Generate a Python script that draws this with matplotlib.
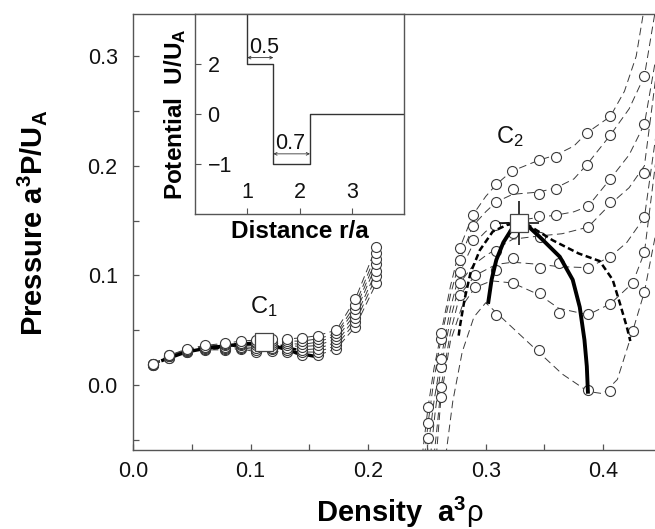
import numpy as np
import matplotlib
matplotlib.use("Agg")
import matplotlib.pyplot as plt
from matplotlib.ticker import MultipleLocator, FixedLocator, FixedFormatter

plt.rcParams['font.family'] = ['Liberation Sans', 'DejaVu Sans']
plt.rcParams['mathtext.fontset'] = 'custom'
plt.rcParams['mathtext.rm'] = 'Liberation Sans'
plt.rcParams['mathtext.it'] = 'Liberation Sans'
plt.rcParams['mathtext.bf'] = 'Liberation Sans:bold'
plt.rcParams['lines.scale_dashes'] = False

# ---------------- data: high-density isotherms (markers = simulation points, fit = dashed curve) ----
t1_x = [0.309, 0.345, 0.387, 0.406, 0.425, 0.435]
t1_y = [0.064, 0.032, -0.005, -0.006, 0.049, 0.085]
t1_fx = [0.266, 0.272, 0.280, 0.290, 0.300, 0.309, 0.325, 0.345, 0.365, 0.387, 0.400, 0.412, 0.425, 0.435, 0.445]
t1_fy = [-0.065, -0.015, 0.030, 0.062, 0.075, 0.066, 0.050, 0.030, 0.010, -0.006, -0.008, 0.005, 0.049, 0.085, 0.140]

t2_x = [0.262, 0.291, 0.323, 0.346, 0.362, 0.387, 0.406, 0.425, 0.435]
t2_y = [-0.011, 0.089, 0.093, 0.084, 0.066, 0.065, 0.074, 0.093, 0.121]
t2_fx = [0.258, 0.262, 0.270, 0.280, 0.291, 0.305, 0.323, 0.346, 0.362, 0.387, 0.406, 0.425, 0.435, 0.450]
t2_fy = [-0.065, -0.011, 0.040, 0.072, 0.089, 0.095, 0.093, 0.082, 0.070, 0.064, 0.074, 0.093, 0.121, 0.250]

t3_x = [0.262, 0.278, 0.291, 0.309, 0.323, 0.346, 0.362, 0.387, 0.406, 0.435]
t3_y = [-0.002, 0.082, 0.100, 0.105, 0.116, 0.107, 0.111, 0.107, 0.117, 0.153]
t3_fx = [0.256, 0.259, 0.262, 0.270, 0.278, 0.291, 0.309, 0.323, 0.346, 0.362, 0.387, 0.406, 0.420, 0.435, 0.449]
t3_fy = [-0.065, -0.035, -0.002, 0.048, 0.082, 0.100, 0.110, 0.112, 0.110, 0.108, 0.107, 0.117, 0.130, 0.153, 0.260]

t4_x = [0.262, 0.278, 0.309, 0.323, 0.346, 0.387, 0.406, 0.435]
t4_y = [0.016, 0.093, 0.122, 0.139, 0.135, 0.144, 0.167, 0.193]
t4_fx = [0.253, 0.257, 0.262, 0.270, 0.278, 0.290, 0.300, 0.309, 0.323, 0.346, 0.365, 0.387, 0.406, 0.422, 0.435, 0.447]
t4_fy = [-0.065, -0.025, 0.016, 0.060, 0.093, 0.110, 0.118, 0.124, 0.133, 0.136, 0.138, 0.144, 0.165, 0.180, 0.200, 0.300]

t5_x = [0.251, 0.262, 0.278, 0.289, 0.308, 0.345, 0.360, 0.387, 0.406, 0.435]
t5_y = [-0.048, 0.024, 0.103, 0.132, 0.146, 0.154, 0.155, 0.163, 0.188, 0.238]
t5_fx = [0.250, 0.256, 0.262, 0.270, 0.278, 0.289, 0.300, 0.308, 0.328, 0.345, 0.360, 0.375, 0.387, 0.406, 0.422, 0.435, 0.445]
t5_fy = [-0.065, -0.015, 0.024, 0.070, 0.103, 0.128, 0.140, 0.146, 0.150, 0.153, 0.155, 0.158, 0.163, 0.188, 0.210, 0.238, 0.300]

t6_x = [0.251, 0.262, 0.278, 0.289, 0.309, 0.323, 0.345, 0.360, 0.386, 0.406, 0.435]
t6_y = [-0.035, 0.042, 0.114, 0.145, 0.167, 0.179, 0.174, 0.179, 0.201, 0.228, 0.282]
t6_fx = [0.248, 0.251, 0.256, 0.262, 0.270, 0.278, 0.289, 0.300, 0.309, 0.323, 0.345, 0.360, 0.375, 0.386, 0.406, 0.422, 0.435, 0.444]
t6_fy = [-0.065, -0.035, 0.005, 0.042, 0.082, 0.114, 0.145, 0.158, 0.167, 0.174, 0.176, 0.180, 0.188, 0.201, 0.228, 0.252, 0.282, 0.340]

t7_x = [0.251, 0.262, 0.278, 0.289, 0.309, 0.322, 0.345, 0.360, 0.386, 0.406]
t7_y = [-0.020, 0.047, 0.125, 0.155, 0.183, 0.195, 0.205, 0.208, 0.230, 0.245]
t7_fx = [0.246, 0.251, 0.256, 0.262, 0.270, 0.278, 0.289, 0.300, 0.309, 0.322, 0.345, 0.360, 0.375, 0.386, 0.406, 0.418, 0.428, 0.435]
t7_fy = [-0.065, -0.020, 0.015, 0.047, 0.090, 0.125, 0.155, 0.172, 0.183, 0.195, 0.205, 0.210, 0.218, 0.230, 0.245, 0.268, 0.300, 0.345]

# ---------------- data: low-density isotherms ----------------
lo_x = [0.017, 0.031, 0.046, 0.061, 0.078, 0.092, 0.105, 0.118, 0.131, 0.144, 0.157, 0.173, 0.189, 0.207]
lo_y1 = [0.018, 0.025, 0.030, 0.032, 0.032, 0.033, 0.030, 0.031, 0.030, 0.027, 0.027, 0.033, 0.053, 0.093]
lo_y2 = [0.018, 0.025, 0.030, 0.033, 0.033, 0.034, 0.032, 0.033, 0.032, 0.030, 0.030, 0.036, 0.057, 0.099]
lo_y3 = [0.018, 0.026, 0.031, 0.033, 0.034, 0.035, 0.034, 0.034, 0.034, 0.032, 0.033, 0.039, 0.061, 0.104]
lo_y4 = [0.019, 0.026, 0.031, 0.034, 0.035, 0.036, 0.036, 0.036, 0.036, 0.035, 0.036, 0.042, 0.065, 0.110]
lo_y5 = [0.019, 0.026, 0.032, 0.035, 0.036, 0.037, 0.038, 0.038, 0.038, 0.037, 0.039, 0.045, 0.069, 0.115]
lo_y6 = [0.019, 0.027, 0.032, 0.035, 0.037, 0.038, 0.039, 0.040, 0.040, 0.040, 0.042, 0.047, 0.073, 0.120]
lo_y7 = [0.019, 0.027, 0.033, 0.036, 0.038, 0.040, 0.041, 0.042, 0.042, 0.043, 0.045, 0.050, 0.078, 0.126]

# ---------------- coexistence (binodal) and spinodal lines ----------------
bin_lo_x = [0.024, 0.045, 0.065, 0.090, 0.111, 0.125, 0.140, 0.155]
bin_lo_y = [0.022, 0.030, 0.034, 0.037, 0.039, 0.034, 0.029, 0.026]
spi_lo_x = [0.060, 0.080, 0.100, 0.111, 0.125, 0.140]
spi_lo_y = [0.032, 0.035, 0.038, 0.039, 0.036, 0.032]

bin_hi_x = [0.302, 0.305, 0.309, 0.315, 0.322, 0.328, 0.336, 0.346, 0.363, 0.374, 0.380, 0.384, 0.386, 0.387]
bin_hi_y = [0.074, 0.096, 0.114, 0.130, 0.142, 0.148, 0.145, 0.135, 0.117, 0.096, 0.071, 0.041, 0.017, -0.008]
spi_hi_x = [0.277, 0.278, 0.282, 0.287, 0.295, 0.306, 0.318, 0.328, 0.336, 0.357, 0.379, 0.397, 0.408, 0.414, 0.420, 0.423]
spi_hi_y = [0.045, 0.053, 0.078, 0.102, 0.123, 0.140, 0.146, 0.148, 0.146, 0.132, 0.120, 0.113, 0.096, 0.075, 0.053, 0.040]

# critical points
c1_x, c1_y = 0.111, 0.039
c2_x, c2_y = 0.328, 0.148
c2_xerr, c2_yerr = 0.017, 0.020

# ---------------- inset: square-shoulder / square-well potential ----------------
pot_r = [1.0, 1.0, 1.5, 1.5, 2.2, 2.2, 4.0]
pot_u = [100.0, 2.0, 2.0, -1.0, -1.0, 0.0, 0.0]
shoulder_w = (1.0, 1.5, 2.24, "0.5")
well_w = (1.5, 2.2, -0.8, "0.7")

# ---------------- figure ----------------
W, H = 655, 529
fig = plt.figure(figsize=(W / 100, H / 100), dpi=100)
ax = fig.add_axes([133 / W, 1 - 450 / H, 522 / W, 436.5 / H])

thin = dict(color='#3a3a3a', lw=0.7, linestyle=(0, (5.5, 3.2)), zorder=2)
mk = dict(linestyle='none', marker='o', ms=7.2, mfc='white', mec='#3a3a3a', mew=0.8, zorder=3)

hi = [(t1_x, t1_y, t1_fx, t1_fy), (t2_x, t2_y, t2_fx, t2_fy), (t3_x, t3_y, t3_fx, t3_fy),
      (t4_x, t4_y, t4_fx, t4_fy), (t5_x, t5_y, t5_fx, t5_fy), (t6_x, t6_y, t6_fx, t6_fy),
      (t7_x, t7_y, t7_fx, t7_fy)]
for mx, my, fx, fy in hi:
    ax.plot(fx, fy, **thin)
for mx, my, fx, fy in hi:
    ax.plot(mx, my, **mk)

# low-density binodal/spinodal are mostly hidden behind the points
ax.plot(bin_lo_x, bin_lo_y, color='black', lw=2.4, zorder=2.5, solid_capstyle='butt')
ax.plot(spi_lo_x, spi_lo_y, color='black', lw=1.8, linestyle=(0, (4.5, 2.5)), zorder=2.5)
for ly in [lo_y1, lo_y2, lo_y3, lo_y4, lo_y5, lo_y6, lo_y7]:
    ax.plot(lo_x, ly, **thin)
    ax.plot(lo_x, ly, **mk)

ax.plot(bin_hi_x, bin_hi_y, color='black', lw=2.8, zorder=4, solid_capstyle='butt')
ax.plot(spi_hi_x, spi_hi_y, color='black', lw=1.8, linestyle=(0, (4.5, 2.5)), zorder=4)

ax.errorbar([c2_x], [c2_y], xerr=[c2_xerr], yerr=[c2_yerr], fmt='none', ecolor='black',
            elinewidth=1.1, capsize=0, zorder=5)
ax.plot([c1_x, c2_x], [c1_y, c2_y], linestyle='none', marker='s', ms=13, mfc='white',
        mec='#444444', mew=0.9, zorder=6)

ax.text(0.1115, 0.0655, r'C$_1$', fontsize=17, ha='center', va='baseline', color='#111111')
ax.text(0.3205, 0.221, r'C$_2$', fontsize=17, ha='center', va='baseline', color='#111111')

ax.set_xlim(0, 0.444)
ax.set_ylim(-0.0594, 0.339)
ax.xaxis.set_major_locator(FixedLocator([0.0, 0.1, 0.2, 0.3, 0.4]))
ax.xaxis.set_major_formatter(FixedFormatter(['0.0', '0.1', '0.2', '0.3', '0.4']))
ax.xaxis.set_minor_locator(MultipleLocator(0.05))
ax.yaxis.set_major_locator(FixedLocator([0.0, 0.1, 0.2, 0.3]))
ax.yaxis.set_major_formatter(FixedFormatter(['0.0', '0.1', '0.2', '0.3']))
ax.yaxis.set_minor_locator(MultipleLocator(0.05))
ax.tick_params(which='both', direction='in', length=4, width=0.9, color='#555555',
               labelsize=15.5, labelcolor='#111111')
ax.tick_params(axis='x', pad=8)
ax.tick_params(axis='y', pad=11)
for s in ['left', 'bottom', 'top']:
    ax.spines[s].set_color('#555555')
    ax.spines[s].set_linewidth(1.0)
ax.spines['right'].set_visible(False)

ax.set_xlabel(r'Density  a$^{\mathbf{3}}\rho$', fontsize=21, fontweight='bold')
ax.set_ylabel(r'Pressure a$^{\mathbf{3}}$P/U$_{\mathbf{A}}$', fontsize=21, fontweight='bold')
ax.xaxis.set_label_coords(0.51, -0.103)
ax.yaxis.set_label_coords(-0.16, 0.52)

# ---------------- inset ----------------
ins = fig.add_axes([195 / W, 1 - 214 / H, 209 / W, 200.5 / H])
ins.set_facecolor('white')
ins.set_zorder(10)


def fwd(u):
    u = np.asarray(u, dtype=float)
    return np.where(u >= 0, u / 2.0, u)


def inv(v):
    v = np.asarray(v, dtype=float)
    return np.where(v >= 0, v * 2.0, v)


ins.set_yscale('function', functions=(fwd, inv))
ins.plot(pot_r, pot_u, color='#333333', lw=1.0)
ins.set_xlim(0, 4)
ins.set_ylim(-2, 4)
for r0, r1, yy, lab in [shoulder_w, well_w]:
    ins.annotate('', xy=(r0, yy), xytext=(r1, yy),
                 arrowprops=dict(arrowstyle='<->', lw=0.6, color='#333333',
                                 shrinkA=0, shrinkB=0, mutation_scale=5))
    ins.text(r0 + 0.04, yy, lab, fontsize=15.5, ha='left', va='bottom', color='#111111')

ins.xaxis.set_major_locator(FixedLocator([1, 2, 3]))
ins.xaxis.set_major_formatter(FixedFormatter(['1', '2', '3']))
ins.yaxis.set_major_locator(FixedLocator([2, 0, -1]))
ins.yaxis.set_major_formatter(FixedFormatter(['2', '0', '\u22121']))
ins.yaxis.set_minor_locator(FixedLocator([]))
ins.tick_params(which='both', direction='in', length=4, width=0.8, color='#555555',
                labelsize=15.5, labelcolor='#111111')
ins.tick_params(axis='x', pad=-8)
ins.tick_params(axis='y', pad=-9)
for lab in ins.get_xticklabels():
    lab.set_verticalalignment('bottom')
for lab in ins.get_yticklabels():
    lab.set_horizontalalignment('left')
for s in ins.spines.values():
    s.set_color('#555555')
    s.set_linewidth(1.0)
ins.set_xlabel('Distance r/a', fontsize=17.5, fontweight='bold', labelpad=4)
ins.set_ylabel(r'Potential  U/U$_{\mathbf{A}}$', fontsize=17.5, fontweight='bold', labelpad=5)

fig.savefig('out.png', dpi=100)
